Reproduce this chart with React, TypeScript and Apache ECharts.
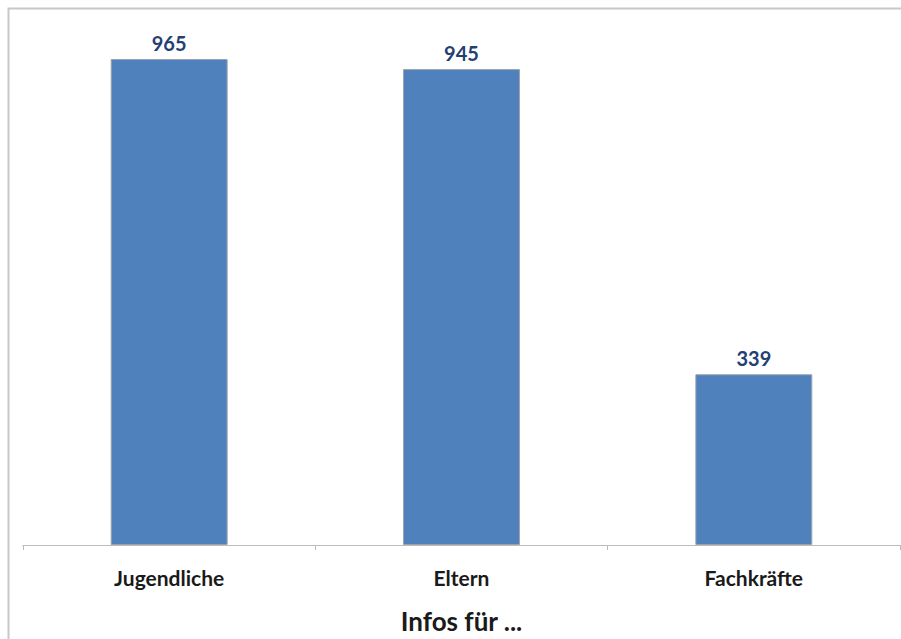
import React, { useEffect, useRef } from "react";
import * as echarts from "echarts";

const categories = ["Jugendliche", "Eltern", "Fachkräfte"];
const values = [965, 945, 339];
const axisTitle = "Infos für ...";

export default function App() {
  const ref = useRef<HTMLDivElement>(null);
  useEffect(() => {
    document.body.style.margin = "0";
    const chart = echarts.init(ref.current!, null, { renderer: "svg" });
    chart.setOption({
      animation: false,
      backgroundColor: "#ffffff",
      graphic: [
        {
          type: "rect",
          shape: { x: 8.5, y: 8.5, width: 910, height: 650 },
          style: { fill: "none", stroke: "#c8c8c8", lineWidth: 2 },
          silent: true,
        },
      ],
      grid: {
        left: 23,
        right: 1,
        top: 41.4,
        bottom: 639 - 545,
        containLabel: false,
        outerBoundsMode: "none",
      },
      xAxis: {
        type: "category",
        data: categories,
        axisLine: { lineStyle: { color: "#bcbcbc", width: 1.2 } },
        axisTick: { show: true, length: 5, alignWithLabel: false, lineStyle: { color: "#bcbcbc" } },
        axisLabel: {
          margin: 22,
          color: "#1a1a1a",
          fontFamily: "Lato",
          fontWeight: "bold",
          fontSize: 21,
        },
        name: axisTitle,
        nameLocation: "middle",
        nameGap: 63,
        nameTextStyle: {
          color: "#1a1a1a",
          fontFamily: "Lato",
          fontWeight: "bold",
          fontSize: 26,
        },
      },
      yAxis: {
        type: "value",
        min: 0,
        max: 1000,
        show: false,
        splitLine: { show: false },
      },
      series: [
        {
          type: "bar",
          data: values,
          barWidth: "40%",
          itemStyle: { color: "#4F81BD", borderColor: "#9aa3ad", borderWidth: 1 },
          label: {
            show: true,
            position: "top",
            distance: 6,
            color: "#243F73",
            fontFamily: "Lato",
            fontWeight: "bold",
            fontSize: 20,
          },
        },
      ],
    });
    return () => chart.dispose();
  }, []);
  return <div ref={ref} style={{ width: 901, height: 639 }} />;
}
